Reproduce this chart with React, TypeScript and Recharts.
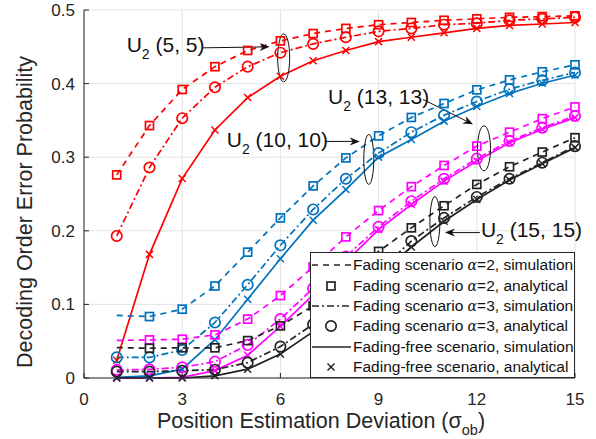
import React from 'react';
import { LineChart, Line, XAxis, YAxis, CartesianGrid, Legend, ReferenceDot } from 'recharts';

const positionDeviation = [1, 2, 3, 4, 5, 6, 7, 8, 9, 10, 11, 12, 13, 14, 15];
const xTicks = [0, 3, 6, 9, 12, 15];
const yTicks = [0, 0.1, 0.2, 0.3, 0.4, 0.5];

// U2 (5, 5)
const u5Alpha2 = [0.276, 0.343, 0.392, 0.423, 0.445, 0.458, 0.468, 0.475, 0.48, 0.483, 0.486, 0.488, 0.49, 0.491, 0.492];
const u5Alpha3 = [0.193, 0.286, 0.353, 0.395, 0.423, 0.442, 0.454, 0.463, 0.471, 0.475, 0.48, 0.482, 0.486, 0.488, 0.49];
const u5Free = [0.024, 0.168, 0.271, 0.337, 0.381, 0.41, 0.431, 0.445, 0.457, 0.463, 0.469, 0.475, 0.479, 0.481, 0.483];

// U2 (10, 10)
const u10Alpha2 = [0.085, 0.0835, 0.0935, 0.125, 0.171, 0.2175, 0.261, 0.299, 0.329, 0.354, 0.373, 0.3915, 0.405, 0.416, 0.4255];
const u10Alpha3 = [0.028, 0.028, 0.038, 0.0754, 0.1267, 0.1803, 0.229, 0.2707, 0.3055, 0.334, 0.357, 0.3756, 0.3924, 0.4046, 0.415];
const u10Free = [0.001, 0.003, 0.012, 0.052, 0.107, 0.162, 0.2144, 0.256, 0.3, 0.324, 0.349, 0.3688, 0.3865, 0.4005, 0.4114];

// U2 (13, 13)
const u13Alpha2 = [0.051, 0.0518, 0.0527, 0.0586, 0.08, 0.112, 0.151, 0.1917, 0.2275, 0.26, 0.2888, 0.315, 0.334, 0.3524, 0.3683];
const u13Alpha3 = [0.011, 0.0118, 0.0145, 0.0222, 0.045, 0.08, 0.122, 0.165, 0.2053, 0.2402, 0.2707, 0.298, 0.322, 0.34, 0.356];
const u13Free = [0.0, 0.0, 0.001, 0.01, 0.031, 0.07, 0.113, 0.158, 0.2016, 0.2357, 0.2675, 0.2948, 0.3196, 0.3379, 0.3538];

// U2 (15, 15)
const u15Alpha2 = [0.0413, 0.0404, 0.041, 0.041, 0.0508, 0.0708, 0.098, 0.135, 0.172, 0.204, 0.234, 0.263, 0.287, 0.307, 0.3265];
const u15Alpha3 = [0.0086, 0.0086, 0.0099, 0.0113, 0.0209, 0.0427, 0.073, 0.108, 0.145, 0.186, 0.2175, 0.246, 0.2707, 0.2925, 0.315];
const u15Free = [0.0, 0.0, 0.0, 0.003, 0.012, 0.0327, 0.063, 0.1, 0.14, 0.178, 0.213, 0.2425, 0.269, 0.291, 0.313];

// first x with an analytical square marker (alpha=2)
const squareStart = { u5: 1, u10: 2, u13: 2, u15: 2 };

const groups = [
  { key: 'u5', color: '#ff0000', a2: u5Alpha2, a3: u5Alpha3, free: u5Free },
  { key: 'u10', color: '#0072bd', a2: u10Alpha2, a3: u10Alpha3, free: u10Free },
  { key: 'u13', color: '#ff00ff', a2: u13Alpha2, a3: u13Alpha3, free: u13Free },
  { key: 'u15', color: '#222222', a2: u15Alpha2, a3: u15Alpha3, free: u15Free },
];

const data = positionDeviation.map((x, i) => {
  const row: Record<string, number | null> = { x };
  groups.forEach((g) => {
    row[g.key + 'a2s'] = g.a2[i];
    row[g.key + 'a2a'] = x >= squareStart[g.key] ? g.a2[i] : null;
    row[g.key + 'a3s'] = g.a3[i];
    row[g.key + 'a3a'] = g.a3[i];
    row[g.key + 'fs'] = g.free[i];
    row[g.key + 'fa'] = g.free[i];
  });
  return row;
});

const FONT = '"Liberation Sans", Arial, Helvetica, sans-serif';
const AXIS = '#262626';
const DASH = '6 5';
const DASHDOT = '7 3 2 3';

const Square = ({ cx, cy, color }: any) =>
  cx == null || cy == null ? <g /> : (
    <rect x={cx - 4} y={cy - 4} width={8} height={8} fill="none" stroke={color} strokeWidth={1.7} />
  );
const Circle = ({ cx, cy, color }: any) =>
  cx == null || cy == null ? <g /> : <circle cx={cx} cy={cy} r={5.2} fill="none" stroke={color} strokeWidth={1.7} />;
const Cross = ({ cx, cy, color }: any) =>
  cx == null || cy == null ? <g /> : (
    <path d={`M${cx - 3.5},${cy - 3.5}L${cx + 3.5},${cy + 3.5}M${cx - 3.5},${cy + 3.5}L${cx + 3.5},${cy - 3.5}`} stroke={color} strokeWidth={1.5} />
  );

// annotation: ellipse centre in data coords, text and arrow offsets in px from it
const annotations = [
  { label: '(5, 5)', x: 6.1, y: 0.435, rx: 6, ry: 24, tx: -157, ty: -6, from: [-81, -10], to: [-14, -11] },
  { label: '(10, 10)', x: 8.7, y: 0.297, rx: 5, ry: 25, tx: -142, ty: -12, from: [-44, -18], to: [-9, -18] },
  { label: '(13, 13)', x: 12.22, y: 0.312, rx: 6.5, ry: 22.5, tx: -156, ty: -44, from: [-61, -49], to: [-11, -24] },
  { label: '(15, 15)', x: 10.72, y: 0.2125, rx: 5, ry: 25, tx: 46, ty: 15, from: [45, 11], to: [10, 11] },
];

const annotationShape = (a: (typeof annotations)[number]) => (props: any) => {
  const { cx, cy } = props;
  const x1 = cx + a.from[0], y1 = cy + a.from[1];
  const x2 = cx + a.to[0], y2 = cy + a.to[1];
  const len = Math.hypot(x2 - x1, y2 - y1);
  const ux = (x2 - x1) / len, uy = (y2 - y1) / len;
  const px = -uy, py = ux;
  const head = `${x2},${y2} ${x2 - ux * 10 + px * 4},${y2 - uy * 10 + py * 4} ${x2 - ux * 7},${y2 - uy * 7} ${x2 - ux * 10 - px * 4},${y2 - uy * 10 - py * 4}`;
  return (
    <g>
      <ellipse cx={cx} cy={cy} rx={a.rx} ry={a.ry} fill="none" stroke="#111" strokeWidth={1} />
      <line x1={x1} y1={y1} x2={x2 - ux * 7} y2={y2 - uy * 7} stroke="#111" strokeWidth={1} />
      <polygon points={head} fill="#111" />
      <text x={cx + a.tx} y={cy + a.ty} fontSize={21} fill="#111" fontFamily={FONT}>
        U
        <tspan dy={7} fontSize={14}>2</tspan>
        <tspan dy={-7} fontSize={21}>{' ' + a.label}</tspan>
      </text>
    </g>
  );
};

const legendItems = [
  { text: 'simulation', alpha: '2', kind: 'dash' },
  { text: 'analytical', alpha: '2', kind: 'square' },
  { text: 'simulation', alpha: '3', kind: 'dashdot' },
  { text: 'analytical', alpha: '3', kind: 'circle' },
  { text: 'simulation', alpha: null, kind: 'solid' },
  { text: 'analytical', alpha: null, kind: 'cross' },
];

const LegendBox = () => (
  <div
    style={{
      boxSizing: 'border-box',
      width: 265,
      height: 126,
      border: `1px solid ${AXIS}`,
      background: '#fff',
      paddingTop: 2,
      fontFamily: FONT,
      fontSize: 15.5,
      color: '#111',
    }}
  >
    {legendItems.map((it, i) => (
      <div key={i} style={{ display: 'flex', alignItems: 'center', height: 20.4, whiteSpace: 'nowrap' }}>
        <svg width={41} height={20} style={{ flex: 'none' }}>
          {it.kind === 'dash' && <line x1={1} y1={10} x2={40} y2={10} stroke={AXIS} strokeWidth={1.7} strokeDasharray={DASH} />}
          {it.kind === 'dashdot' && <line x1={1} y1={10} x2={40} y2={10} stroke={AXIS} strokeWidth={1.7} strokeDasharray={DASHDOT} />}
          {it.kind === 'solid' && <line x1={1} y1={10} x2={40} y2={10} stroke={AXIS} strokeWidth={1.7} />}
          {it.kind === 'square' && <Square cx={20} cy={10} color={AXIS} />}
          {it.kind === 'circle' && <Circle cx={20} cy={10} color={AXIS} />}
          {it.kind === 'cross' && <Cross cx={20} cy={10} color={AXIS} />}
        </svg>
        <span style={{ marginLeft: 1 }}>
          {it.alpha ? (
            <>
              Fading scenario <i style={{ fontFamily: '"DejaVu Serif", serif', fontSize: 14 }}>α</i>={it.alpha}, {it.text}
            </>
          ) : (
            <>Fading-free scenario, {it.text}</>
          )}
        </span>
      </div>
    ))}
  </div>
);

const App = () => {
  const lines: React.ReactNode[] = [];
  groups.forEach((g) => {
    const c = g.color;
    lines.push(
      <Line key={g.key + 'a2s'} dataKey={g.key + 'a2s'} stroke={c} strokeWidth={1.7} strokeDasharray={DASH} dot={false} isAnimationActive={false} />,
      <Line key={g.key + 'a2a'} dataKey={g.key + 'a2a'} stroke="none" dot={(p: any) => <Square key={p.index} {...p} color={c} />} activeDot={false} isAnimationActive={false} />,
      <Line key={g.key + 'a3s'} dataKey={g.key + 'a3s'} stroke={c} strokeWidth={1.7} strokeDasharray={DASHDOT} dot={false} isAnimationActive={false} />,
      <Line key={g.key + 'a3a'} dataKey={g.key + 'a3a'} stroke="none" dot={(p: any) => <Circle key={p.index} {...p} color={c} />} activeDot={false} isAnimationActive={false} />,
      <Line key={g.key + 'fs'} dataKey={g.key + 'fs'} stroke={c} strokeWidth={1.7} dot={false} isAnimationActive={false} />,
      <Line key={g.key + 'fa'} dataKey={g.key + 'fa'} stroke="none" dot={(p: any) => <Cross key={p.index} {...p} color={c} />} activeDot={false} isAnimationActive={false} />
    );
  });

  return (
    <div style={{ position: 'absolute', left: 0, top: 0, width: 596, height: 439, background: '#fff', fontFamily: FONT }}>
      <LineChart width={596} height={439} data={data} margin={{ top: 10, right: 21, bottom: 0, left: 0 }}>
        <CartesianGrid stroke="#e3e3e3" strokeWidth={1} />
        <XAxis
          dataKey="x"
          type="number"
          domain={[0, 15]}
          ticks={xTicks}
          interval={0}
          height={61}
          tickSize={-5}
          tickMargin={20}
          stroke={AXIS}
          tick={{ fill: AXIS, fontSize: 17, fontFamily: FONT }}
          label={{
            content: () => (
              <text x={321} y={428} textAnchor="middle" fontSize={21.5} fill={AXIS} fontFamily={FONT}>
                Position Estimation Deviation (σ
                <tspan dy={7} fontSize={14.5}>ob</tspan>
                <tspan dy={-7}>)</tspan>
              </text>
            ),
          }}
        />
        <XAxis xAxisId="top" orientation="top" dataKey="x" type="number" domain={[0, 15]} ticks={xTicks} interval={0} height={0} tickSize={-5} stroke={AXIS} tick={() => <g />} />
        <YAxis
          type="number"
          domain={[0, 0.5]}
          ticks={yTicks}
          interval={0}
          width={84}
          tickSize={-5}
          tickMargin={14}
          stroke={AXIS}
          tick={{ fill: AXIS, fontSize: 17, fontFamily: FONT }}
          label={{
            content: () => (
              <text transform="translate(25,212) rotate(-90)" textAnchor="middle" dominantBaseline="central" fontSize={21.5} fill={AXIS} fontFamily={FONT}>
                Decoding Order Error Probability
              </text>
            ),
          }}
        />
        <YAxis yAxisId="right" orientation="right" type="number" domain={[0, 0.5]} ticks={yTicks} interval={0} width={0} tickSize={-5} stroke={AXIS} tick={() => <g />} />
        {lines}
        {annotations.map((a, i) => (
          <ReferenceDot key={i} x={a.x} y={a.y} r={0} shape={annotationShape(a)} />
        ))}
        <Legend
          layout="vertical"
          align="center"
          verticalAlign="middle"
          content={() => <LegendBox />}
          wrapperStyle={{ left: 310, top: 252, width: 265, height: 126 }}
        />
      </LineChart>
    </div>
  );
};

export default App;
